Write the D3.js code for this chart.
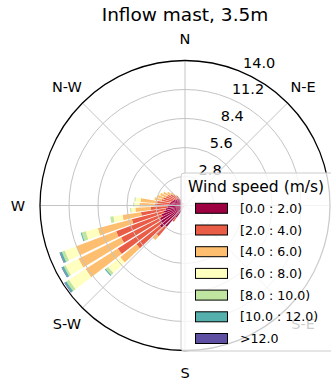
<!DOCTYPE html>
<html>
<head>
<meta charset="utf-8">
<script src="https://cdn.jsdelivr.net/npm/d3@7"></script>
<style>
  body { margin: 0; background: #fff; }
  text { font-family: "DejaVu Sans", sans-serif; }
</style>
</head>
<body>
<div id="container"></div>
<script>

/** CONSTANTS AND GLOBALS */
const width = 331, height = 378;
const cx = 185, cy = 205.5, R = 145;

// bar directions (compass bearing, deg) and sector pitch
const directions = [319, 313, 307, 301, 295, 289, 283, 277, 271, 265, 259, 253, 247, 241, 235, 229, 223, 217];
const sectorWidth = 6, opening = 0.8;

// frequency (%) per direction for every speed bin
const bin0 = [0.8, 0.9, 1.0, 1.1, 1.2, 1.3, 1.4, 1.5, 1.6, 1.7, 1.9, 2.1, 2.4, 2.7, 2.9, 3.1, 2.7, 1.4];
const bin1 = [0.4, 0.6, 0.7, 0.8, 0.8, 0.9, 0.9, 1.2, 1.3, 1.6, 2.4, 3.2, 4.7, 4.2, 4.8, 2.9, 1.2, 0.5];
const bin2 = [0.1, 0.3, 0.4, 0.5, 0.6, 0.6, 0.7, 1.6, 1.5, 1.5, 1.8, 3.4, 4.1, 4.6, 3.7, 2.0, 0.5, 0.0];
const bin3 = [0.0, 0.0, 0.0, 0.1, 0.1, 0.1, 0.1, 0.5, 0.5, 0.4, 0.9, 1.2, 1.2, 1.4, 1.9, 1.5, 0.0, 0.0];
const bin4 = [0.0, 0.0, 0.0, 0.0, 0.0, 0.0, 0.0, 0.1, 0.1, 0.1, 0.3, 0.4, 0.3, 0.2, 0.3, 0.3, 0.0, 0.0];
const bin5 = [0.0, 0.0, 0.0, 0.0, 0.0, 0.0, 0.0, 0.0, 0.0, 0.0, 0.0, 0.1, 0.2, 0.2, 0.2, 0.1, 0.0, 0.0];
const bin6 = [0.0, 0.0, 0.0, 0.0, 0.0, 0.0, 0.0, 0.0, 0.0, 0.0, 0.0, 0.0, 0.05, 0.05, 0.05, 0.0, 0.0, 0.0];

const speedLabels = ["[0.0 : 2.0)", "[2.0 : 4.0)", "[4.0 : 6.0)", "[6.0 : 8.0)", "[8.0 : 10.0)", "[10.0 : 12.0)", ">12.0"];
const speedColors = ["#9e0142", "#e95d47", "#fdbe6f", "#ffffbf", "#bfe5a0", "#55afad", "#5e4fa2"];

const radialTicks = [2.8, 5.6, 8.4, 11.2, 14.0];
const compassLabels = ["N", "N-E", "E", "S-E", "S", "S-W", "W", "N-W"];

const rad = d => d * Math.PI / 180;

/** INITIALIZING FUNCTION */
function init() {
  const svg = d3.select("#container")
    .append("svg")
    .attr("width", width)
    .attr("height", height);

  const r = d3.scaleLinear().domain([0, 14]).range([0, R]);
  const g = svg.append("g").attr("transform", `translate(${cx},${cy})`);

  // stack the bins per direction
  const bins = [bin0, bin1, bin2, bin3, bin4, bin5, bin6];
  const segs = [];
  directions.forEach((dir, j) => {
    let acc = 0;
    bins.forEach((b, i) => {
      if (b[j] > 0) segs.push({ dir, i, r0: acc, r1: acc + b[j] });
      acc += b[j];
    });
  });

  const half = sectorWidth * opening / 2;
  const arc = d3.arc()
    .innerRadius(d => r(d.r0))
    .outerRadius(d => r(d.r1))
    .startAngle(d => rad(d.dir - half))
    .endAngle(d => rad(d.dir + half));

  g.selectAll(".seg")
    .data(segs)
    .join("path")
    .attr("class", "seg")
    .attr("d", arc)
    .attr("fill", d => speedColors[d.i]);

  // grid on top of the bars
  g.selectAll(".ring")
    .data(radialTicks.slice(0, -1))
    .join("circle")
    .attr("class", "ring")
    .attr("r", d => r(d))
    .attr("fill", "none")
    .attr("stroke", "#c4c4c4")
    .attr("stroke-width", 1);

  g.selectAll(".spoke")
    .data(d3.range(0, 360, 45))
    .join("line")
    .attr("class", "spoke")
    .attr("x1", 0).attr("y1", 0)
    .attr("x2", d => R * Math.sin(rad(d)))
    .attr("y2", d => -R * Math.cos(rad(d)))
    .attr("stroke", "#c4c4c4")
    .attr("stroke-width", 1);

  g.append("circle")
    .attr("r", R)
    .attr("fill", "none")
    .attr("stroke", "#000")
    .attr("stroke-width", 1.3);

  // radial tick labels at 22.5 deg
  g.selectAll(".rlab")
    .data(radialTicks)
    .join("text")
    .attr("class", "rlab")
    .attr("x", d => r(d) * Math.sin(rad(22.5)) + 2.5)
    .attr("y", d => -r(d) * Math.cos(rad(22.5)) - 4)
    .attr("font-size", 14.5)
    .text(d => d.toFixed(1));

  g.selectAll(".clab")
    .data(compassLabels)
    .join("text")
    .attr("class", "clab")
    .attr("x", (d, i) => 167 * Math.sin(rad(i * 45)))
    .attr("y", (d, i) => -167 * Math.cos(rad(i * 45)))
    .attr("text-anchor", "middle")
    .attr("dominant-baseline", "central")
    .attr("font-size", 14.5)
    .text(d => d);

  svg.append("text")
    .attr("x", 185)
    .attr("y", 21)
    .attr("text-anchor", "middle")
    .attr("font-size", 18.5)
    .text("Inflow mast, 3.5m");

  // legend
  const leg = svg.append("g").attr("transform", "translate(181,173)");
  leg.append("rect")
    .attr("x", 0).attr("y", 0)
    .attr("width", 170).attr("height", 178)
    .attr("rx", 3)
    .attr("fill", "#fff")
    .attr("fill-opacity", 0.8)
    .attr("stroke", "#cccccc")
    .attr("stroke-width", 1);

  leg.append("text")
    .attr("x", 7)
    .attr("y", 19)
    .attr("font-size", 15.5)
    .text("Wind speed (m/s)");

  const rows = leg.selectAll(".row")
    .data(speedLabels)
    .join("g")
    .attr("class", "row")
    .attr("transform", (d, i) => `translate(0,${35.3 + i * 21.7})`);

  rows.append("rect")
    .attr("x", 14.5).attr("y", -5)
    .attr("width", 32).attr("height", 10)
    .attr("fill", (d, i) => speedColors[i])
    .attr("stroke", "#000")
    .attr("stroke-width", 1);

  rows.append("text")
    .attr("x", 59)
    .attr("y", 4.5)
    .attr("font-size", 12.6)
    .text(d => d);
}

init();
</script>
</body>
</html>
